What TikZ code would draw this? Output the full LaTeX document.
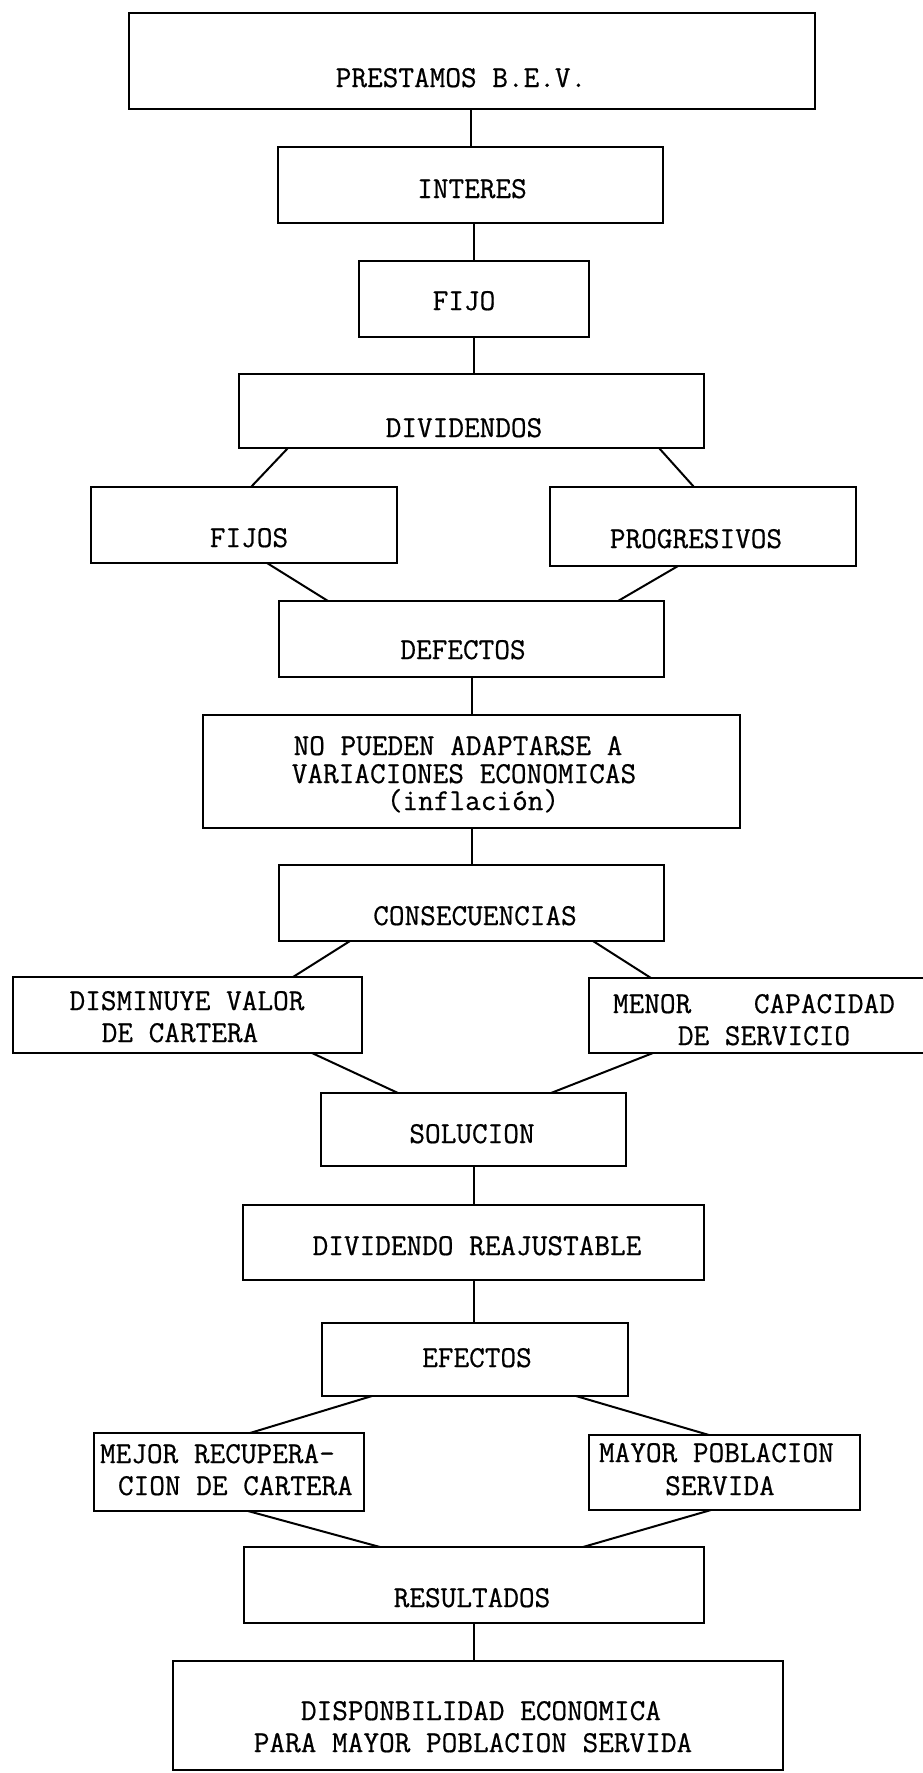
\documentclass[tikz,border=0pt]{standalone}
\usepackage{fontspec}
\newfontfamily\twfont[FakeBold=0.6]{Latin Modern Mono}
\begin{document}
\begin{tikzpicture}[x=1pt,y=-1pt,
  box/.style={draw, line width=2pt, rectangle, inner sep=0pt, outer sep=0pt},
  conn/.style={line width=2pt},
  txt/.style={anchor=base, inner sep=0pt, outer sep=0pt, font=\twfont\fontsize{30.4}{32}\selectfont},
  txtw/.style={txt, anchor=base west}]
\fill[white] (0,0) rectangle (923,1773);
\useasboundingbox (0,0) rectangle (923,1773);

% boxes
\node[box, minimum width=686pt, minimum height=96pt] (prest) at (472,61) {};
\node[box, minimum width=385pt, minimum height=76pt] (inter) at (470.5,185) {};
\node[box, minimum width=230pt, minimum height=76pt] (fijo) at (474,299) {};
\node[box, minimum width=465pt, minimum height=74pt] (divid) at (471.5,411) {};
\node[box, minimum width=306pt, minimum height=76pt] (fijos) at (244,525) {};
\node[box, minimum width=306pt, minimum height=79pt] (progr) at (703,526.5) {};
\node[box, minimum width=385pt, minimum height=76pt] (defec) at (471.5,639) {};
\node[box, minimum width=537pt, minimum height=113pt] (nopue) at (471.5,771.5) {};
\node[box, minimum width=385pt, minimum height=76pt] (conse) at (471.5,903) {};
\node[box, minimum width=349pt, minimum height=76pt] (dismi) at (187.5,1015) {};
\node[box, minimum width=341pt, minimum height=75pt] (menor) at (759.5,1015.5) {};
\node[box, minimum width=305pt, minimum height=73pt] (soluc) at (473.5,1129.5) {};
\node[box, minimum width=461pt, minimum height=75pt] (reaju) at (473.5,1242.5) {};
\node[box, minimum width=306pt, minimum height=73pt] (efect) at (475,1359.5) {};
\node[box, minimum width=270pt, minimum height=78pt] (mejor) at (229,1472) {};
\node[box, minimum width=271pt, minimum height=75pt] (mayor) at (724.5,1472.5) {};
\node[box, minimum width=460pt, minimum height=76pt] (resul) at (474,1585) {};
\node[box, minimum width=610pt, minimum height=109pt] (dispo) at (478,1715.5) {};

% texts
\node[txt] (tprest) at (461,87) {PRESTAMOS B.E.V.};
\node[txt] (tinter) at (472,198) {INTERES};
\node[txt] (tfijo) at (464,310) {FIJO};
\node[txt] (tdivid) at (464,437) {DIVIDENDOS};
\node[txt] (tfijos) at (249,547) {FIJOS};
\node[txt] (tprogr) at (696,548) {PROGRESIVOS};
\node[txt] (tdefec) at (463,659) {DEFECTOS};
\node[txt] (tnopuea) at (458,755) {NO PUEDEN ADAPTARSE A};
\node[txt] (tnopueb) at (464,783) {VARIACIONES ECONOMICAS};
\node[txt] (tnopuec) at (473,810) {(inflación)};
\node[txt] (tconse) at (475,925) {CONSECUENCIAS};
\node[txt] (tdismia) at (187,1010) {DISMINUYE VALOR};
\node[txt] (tdismib) at (180,1042) {DE CARTERA};
\node[txtw] (tmenora) at (613,1013) {MENOR\ \ \ \ CAPACIDAD};
\node[txt] (tmenorb) at (764,1045) {DE SERVICIO};
\node[txt] (tsoluc) at (472,1143) {SOLUCION};
\node[txt] (treaju) at (477,1255) {DIVIDENDO REAJUSTABLE};
\node[txt] (tefect) at (477,1367) {EFECTOS};
\node[txtw] (tmejora) at (100,1463) {MEJOR RECUPERA-};
\node[txtw] (tmejorb) at (118,1495) {CION DE CARTERA};
\node[txtw] (tmayora) at (599,1462) {MAYOR POBLACION};
\node[txt] (tmayorb) at (720,1495) {SERVIDA};
\node[txt] (tresul) at (472,1607) {RESULTADOS};
\node[txt] (tdispoa) at (481,1720) {DISPONBILIDAD ECONOMICA};
\node[txt] (tdispob) at (473,1752) {PARA MAYOR POBLACION SERVIDA};

% connectors
\draw[conn] (inter.north) -- (inter.north |- prest.south);
\draw[conn] (fijo.north) -- (fijo.north |- inter.south);
\draw[conn] (fijo.south) -- (fijo.south |- divid.north);
\draw[conn] ([xshift=49pt]divid.south west) -- ([xshift=160pt]fijos.north west);
\draw[conn] ([xshift=-45pt]divid.south east) -- ([xshift=144pt]progr.north west);
\draw[conn] ([xshift=176pt]fijos.south west) -- ([xshift=49pt]defec.north west);
\draw[conn] ([xshift=128pt]progr.south west) -- ([xshift=-46pt]defec.north east);
\draw[conn] (defec.south) -- (defec.south |- nopue.north);
\draw[conn] (nopue.south) -- (nopue.south |- conse.north);
\draw[conn] ([xshift=71pt]conse.south west) -- ([xshift=280pt]dismi.north west);
\draw[conn] ([xshift=-71pt]conse.south east) -- ([xshift=62pt]menor.north west);
\draw[conn] ([xshift=299pt]dismi.south west) -- ([xshift=77pt]soluc.north west);
\draw[conn] ([xshift=64pt]menor.south west) -- ([xshift=-75pt]soluc.north east);
\draw[conn] (soluc.south) -- (soluc.south |- reaju.north);
\draw[conn] (reaju.south) -- (reaju.south |- efect.north);
\draw[conn] ([xshift=50pt]efect.south west) -- ([xshift=156pt]mejor.north west);
\draw[conn] ([xshift=-52pt]efect.south east) -- ([xshift=120pt]mayor.north west);
\draw[conn] ([xshift=154pt]mejor.south west) -- ([xshift=136pt]resul.north west);
\draw[conn] ([xshift=122pt]mayor.south west) -- ([xshift=-121pt]resul.north east);
\draw[conn] (resul.south) -- (resul.south |- dispo.north);
\end{tikzpicture}
\end{document}
